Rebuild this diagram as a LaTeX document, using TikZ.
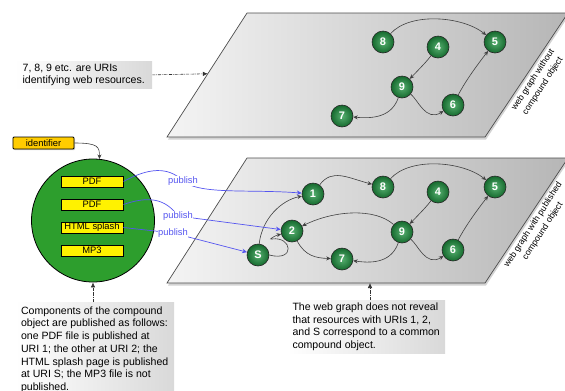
\documentclass[tikz,border=0pt]{standalone}
\usepackage{fontspec}
\setmainfont{Liberation Sans}
\usetikzlibrary{arrows.meta,shadows,calc}
\definecolor{uriGreen}{RGB}{30,150,65}
\definecolor{bigGreen}{RGB}{45,158,45}
\definecolor{pubBlue}{RGB}{85,85,240}
\definecolor{identGold}{RGB}{255,204,0}
\definecolor{planeL}{RGB}{244,244,244}
\definecolor{planeR}{RGB}{182,182,182}
\tikzset{
  uri/.style={circle, minimum size=22bp, inner sep=0pt, draw=black!85, line width=0.6bp,
    shading=radial, inner color=uriGreen!75!white, outer color=uriGreen!70!black, text=white,
    font=\fontsize{11}{11}\selectfont\bfseries},
  edge/.style={draw=black!75, line width=0.6bp, -{Stealth[length=4.5bp,width=4bp]}},
  pub/.style={draw=pubBlue, line width=0.7bp, -{Stealth[length=5bp,width=4.5bp]}},
  publabel/.style={text=pubBlue, fill=white, inner sep=0.5bp, font=\fontsize{9.4}{10}\selectfont},
  dd/.style={draw=black!80, line width=0.6bp, densely dashdotted, -{Latex[length=5bp,width=4.5bp]}},
  plane/.style={draw=black!70, line width=0.7bp, left color=planeL, right color=planeR,
    drop shadow={shadow xshift=1bp, shadow yshift=-2.5bp, opacity=0.35}},
  ybox/.style={draw=black, line width=0.9bp, fill=yellow, minimum width=62bp, minimum height=11bp,
    inner sep=0pt, font=\fontsize{9.4}{10}\selectfont,
    drop shadow={shadow xshift=1bp, shadow yshift=-1bp, opacity=0.4}},
  note/.style={left color=white, right color=black!15, inner sep=2.5bp, align=left, anchor=north west,
    font=\fontsize{10.6}{12.8}\selectfont},
  side/.style={rotate=57, align=center, font=\fontsize{8.8}{11.5}\selectfont}
}
\begin{document}
\begin{tikzpicture}[x=1bp,y=-1bp]
\useasboundingbox (0,0) rectangle (565,390);

% planes
\path[plane] (247,13) -- (568,13) -- (485,137) -- (167,137) -- cycle;
\path[plane] (247,158) -- (568,158) -- (485,283) -- (167,283) -- cycle;
\coordinate (topedge) at ($(247,13)!0.49!(167,137)$);
\coordinate (botedge) at (370,283);

% side labels
\node[side] (lt) at (538,83) {web graph without\\compound object};
\node[side] (lb) at (538,228) {web graph with published\\compound object};

% top graph
\node[uri] (t8) at (383,42) {8};
\node[uri] (t4) at (438,47) {4};
\node[uri] (t5) at (495,42) {5};
\node[uri] (t9) at (402,87) {9};
\node[uri] (t6) at (453,105) {6};
\node[uri] (t7) at (342,116) {7};
\draw[edge] (t8) .. controls (410,12) and (462,16) .. (t5);
\draw[edge] (t4) .. controls (426,62) .. (t9);
\draw[edge] (t9) .. controls (392,116) and (375,119) .. (t7);
\draw[edge] (t9) .. controls (418,100) and (426,122) .. (t6);
\draw[edge] (t6) .. controls (466,80) and (478,64) .. (t5);

% bottom graph
\node[uri] (b1) at (313,194) {1};
\node[uri] (b8) at (383,187) {8};
\node[uri] (b4) at (438,192) {4};
\node[uri] (b5) at (495,187) {5};
\node[uri] (b2) at (292,231) {2};
\node[uri] (b9) at (402,232) {9};
\node[uri] (b6) at (453,250) {6};
\node[uri] (b7) at (342,259) {7};
\node[uri] (bS) at (258,255) {S};
\draw[edge] (b1) .. controls (332,168) and (348,178) .. (b8);
\draw[edge] (b8) .. controls (410,157) and (462,161) .. (b5);
\draw[edge] (b4) .. controls (426,207) .. (b9);
\draw[edge] (b9) .. controls (392,261) and (375,264) .. (b7);
\draw[edge] (b9) .. controls (418,245) and (426,267) .. (b6);
\draw[edge] (b6) .. controls (466,225) and (478,209) .. (b5);
\draw[edge] (b9) .. controls (375,208) and (335,210) .. (b2);
\draw[edge] (b2) .. controls (305,256) and (316,258) .. (b7);
\draw[edge] (bS) .. controls (262,218) and (282,200) .. (b1);
\draw[edge] (bS.east) .. controls (296,262) and (292,236) .. (272,239) .. controls (268,240) and (274,236) .. (b2);

% compound object
\node[ybox, fill=identGold, minimum width=61bp, minimum height=12bp, rounded corners=1bp] (ident) at (43.5,143) {identifier};
\node[circle, draw=black, line width=0.8bp, fill=bigGreen, minimum size=123bp, inner sep=0pt] (circ) at (93,220.5) {};
\draw[edge] (ident.east) .. controls +(24,0) and +(0,-12) .. (circ.84);
\node[ybox] (pdf1) at (92,181.5) {PDF};
\node[ybox] (pdf2) at (92,204.5) {PDF};
\node[ybox] (html) at (92,227.5) {HTML splash};
\node[ybox] (mp3) at (92,250.5) {MP3};

% publish arrows
\coordinate (p1) at (183,181);
\coordinate (p2) at (178,216);
\coordinate (p3) at (173,233);
\draw[pub] (pdf1.east) .. controls (148,168) and (168,166) .. (p1) .. controls (200,195) and (250,189) .. (b1);
\draw[pub] (pdf2.east) .. controls (148,196) and (165,198) .. (p2) -- (b2);
\draw[pub] (html.east) -- (p3) -- (bS);
\node[publabel] (l1) at (p1) {publish};
\node[publabel] (l2) at (p2) {publish};
\node[publabel] (l3) at (p3) {publish};

% notes
\node[note, minimum width=137bp, minimum height=26bp] (n1) at (15,61) {7, 8, 9 etc. are URIs\\identifying web resources.};
\draw[dd] (n1.east) -- (topedge);
\node[note, minimum width=159bp, minimum height=95bp] (n2) at (15,302) {Components of the compound\\object are published as follows:\\one PDF file is published at\\URI 1; the other at URI 2; the\\HTML splash page is published\\at URI S; the MP3 file is not\\published.};
\draw[dd] (n2.north -| circ.south) -- (circ.south);
\node[note, minimum width=158bp, minimum height=53bp] (n3) at (287,300) {The web graph does not reveal\\that resources with URIs 1, 2,\\and S correspond to a common\\compound object.};
\draw[dd] (n3.north -| botedge) -- (botedge);
\end{tikzpicture}
\end{document}
